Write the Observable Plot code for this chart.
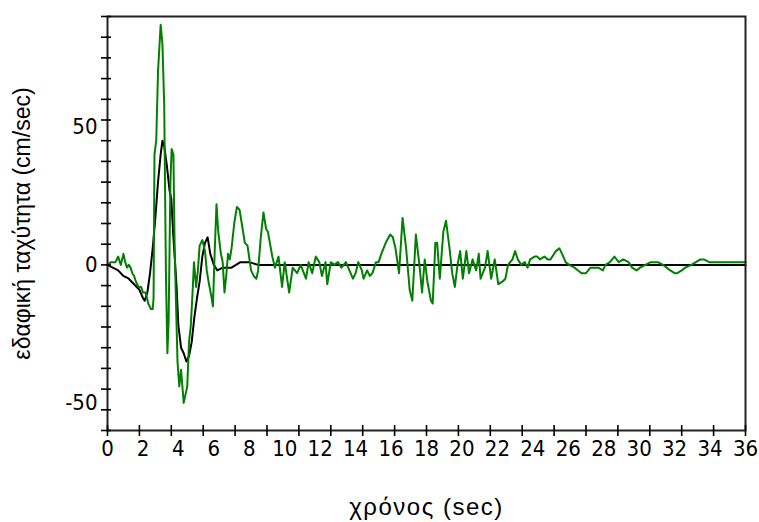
<!DOCTYPE html>
<html>
<head>
<meta charset="utf-8">
<script src="https://cdn.jsdelivr.net/npm/d3@7"></script>
<script src="https://cdn.jsdelivr.net/npm/@observablehq/plot@0.6"></script>
<style>
  html, body { margin: 0; padding: 0; background: #fff; }
  #chart svg { display: block; }
  #chart [aria-label="x-axis tick label"], #chart [aria-label="y-axis tick label"] {
    font-family: "Liberation Sans Narrow", "DejaVu Sans Condensed", "DejaVu Sans", sans-serif;
    font-stretch: condensed;
    font-size: 22px;
  }
  #chart [aria-label="x-axis label"] {
    font-family: "Liberation Sans", sans-serif;
    font-size: 24px;
    letter-spacing: 1.5px;
  }
  #chart [aria-label="y-axis label"] {
    font-family: "Liberation Sans", sans-serif;
    font-size: 23px;
  }
</style>
</head>
<body>
<div id="chart"></div>
<script>
// Green series: measured ground velocity (time in sec, velocity in cm/sec)
const timeGreen = [0, 0.2, 0.45, 0.6, 0.75, 0.9, 1.0, 1.1, 1.2, 1.3, 1.4, 1.5, 1.6, 1.75, 1.9, 2.0, 2.15, 2.3, 2.45, 2.55,
  2.6, 2.65, 2.75, 2.85, 3.0, 3.1, 3.2, 3.3, 3.38, 3.45, 3.55, 3.62, 3.72, 3.78, 3.85, 3.95, 4.05, 4.15, 4.3, 4.4, 4.5, 4.6, 4.7, 4.8, 4.88,
  5.0, 5.1, 5.2, 5.35, 5.5, 5.6, 5.7, 5.85, 5.95, 6.05, 6.15, 6.25, 6.4, 6.5, 6.6, 6.7, 6.8, 6.9, 7.0, 7.15, 7.3, 7.45, 7.6, 7.75, 7.9,
  8.1, 8.25, 8.4, 8.5, 8.65, 8.8, 8.95, 9.05, 9.3, 9.45, 9.65, 9.85, 10.0, 10.25, 10.45, 10.7, 10.9, 11.2, 11.35, 11.55, 11.75, 11.95,
  12.1, 12.3, 12.4, 12.6, 12.8, 13.0, 13.2, 13.45, 13.65, 13.85, 14.0, 14.15, 14.35, 14.45, 14.65, 14.8, 14.95, 15.15, 15.3, 15.45, 15.7, 15.95,
  16.1, 16.25, 16.45, 16.65, 16.85, 17.05, 17.2, 17.4, 17.6, 17.75, 17.9, 18.05, 18.25, 18.35, 18.5, 18.6, 18.75, 18.95, 19.1, 19.3, 19.45, 19.6, 19.75, 19.9,
  20.05, 20.25, 20.4, 20.6, 20.8, 20.95, 21.05, 21.3, 21.45, 21.65, 21.85, 22.05, 22.3, 22.45, 22.6, 22.85, 23.0, 23.15, 23.35, 23.55, 23.7, 23.85,
  24.1, 24.25, 24.4, 24.65, 24.85, 25.0, 25.3, 25.5, 25.65, 25.85, 26.05, 26.35, 26.55, 26.75, 27.0, 27.25, 27.45, 27.7, 27.95,
  28.1, 28.35, 28.6, 28.85, 29.1, 29.4, 29.6, 29.85, 30.05, 30.35, 30.65, 30.85, 31.05, 31.35, 31.55, 31.75, 32.0, 32.15, 32.4, 32.6, 32.95,
  33.2, 33.45, 33.65, 33.95, 34.2, 35.0, 36.0];
const velGreen = [0, 1, 1, 3, 0, 4, 1, -1, 0, -1, -3, -4, -6, -8, -8, -10, -10, -14, -16, -16,
  -12, 40, 45, 70, 87, 80, 58, -5, -32, -20, 30, 42, 40, 10, -10, -35, -44, -38, -50, -47, -44, -28, -22, -10, 1,
  -8, -2, 7, 9, 5, -2, -6, -11, -15, 5, 22, 12, 4, 1, -10, -4, 4, 2, 6, 15, 21, 20, 14, 8, 7,
  -2, -4, -5, -2, 10, 19, 13, 12, 3, -1, 3, -8, 1, -10, -1, -3, 0, -5, 1, -3, 3, 1,
  -4, 1, -7, 1, 0, 1, -1, 1, -2, -5, -3, 1, -2, -5, -2, -4, -3, 1, 1, 4, 8, 11,
  10, 6, -3, 17, 6, -9, -13, 11, 0, -10, 2, -6, -13, -14, 8, 8, -5, 12, 16, 6, -3, -8, 0, 5,
  -5, 5, -3, 2, -2, 4, -5, -1, 5, -5, 2, -7, -6, -5, 0, 2, 5, 2, 0, 1, -1, 2,
  3, 3, 2, 3, 2, 2, 5, 6, 4, 1, 0, -1, -2, -3, -3, -1, -1, -1, -2,
  0, 1, 3, 1, 2, 1, -1, -2, -1, 0, 1, 1, 1, 0, -1, -2, -3, -3, -2, -1, 0,
  1, 2, 2, 1, 1, 1, 1];

// Black series: reference (model) velocity
const timeBlack = [0, 0.3, 0.6, 0.9, 1.2, 1.5, 1.8, 2.0, 2.1, 2.25, 2.4, 2.55, 2.7, 2.85, 3.0, 3.1, 3.2, 3.35, 3.5, 3.6, 3.7, 3.8, 3.9, 4.0,
  4.15, 4.3, 4.45, 4.6, 4.75, 4.9, 5.05, 5.2, 5.35, 5.5, 5.65, 5.8, 6.0, 6.2, 6.5, 7.0, 7.5, 8.0, 8.5, 9.0, 36.0];
const velBlack = [0, -1, -2, -4, -5, -7, -9, -12, -13, -10, -3, 6, 17, 30, 40, 45, 43, 36, 27, 24, 12, 2, -8, -22,
  -30, -32, -35, -33, -28, -19, -12, -6, 3, 8, 10, 4, 0, -2, -1, -1, 1, 1, 0, 0, 0];

// Axis ticks
const xTickLabels = [0, 2, 4, 6, 8, 10, 12, 14, 16, 18, 20, 22, 24, 26, 28, 30, 32, 34, 36];
const xTickMarks = [0, 1.8, 3.6, 5.4, 7.2, 9, 10.8, 12.6, 14.4, 16.2, 18, 19.8, 21.6, 23.4, 25.2, 27, 28.8, 30.6, 32.4, 34.2, 36];
const yTickLabels = [-50, 0, 50];
const yTickMarks = [-60, -52.5, -45, -37.5, -30, -22.5, -15, -7.5, 0, 7.5, 15, 22.5, 30, 37.5, 45, 52.5, 60, 67.5, 75, 82.5, 90];

const xLabel = "χρόνος (sec)";
const yLabel = "εδαφική ταχύτητα (cm/sec)";

const green = timeGreen.map((t, i) => ({t, v: velGreen[i]}));
const black = timeBlack.map((t, i) => ({t, v: velBlack[i]}));

const chart = Plot.plot({
  width: 759,
  height: 522,
  marginLeft: 107,
  marginRight: 14,
  marginTop: 16,
  marginBottom: 92,
  style: {background: "#fff", color: "#000", overflow: "visible"},
  x: {domain: [0, 36]},
  y: {domain: [-60, 90]},
  marks: [
    Plot.line(black, {x: "t", y: "v", stroke: "#000", strokeWidth: 2, curve: "linear"}),
    Plot.line(green, {x: "t", y: "v", stroke: "#008000", strokeWidth: 2, curve: "linear"}),
    Plot.frame({stroke: "#222", strokeWidth: 2}),
    Plot.axisX(xTickMarks, {tickSize: 11, dy: -5, fill: "none", label: null, strokeWidth: 1.6}),
    Plot.axisX(xTickLabels, {tickSize: 0, tickPadding: 10, tickFormat: d => String(d), label: xLabel, labelAnchor: "center", labelOffset: 84, labelArrow: "none"}),
    Plot.axisY(yTickMarks, {tickSize: 10, dx: 4, fill: "none", label: null, strokeWidth: 1.6}),
    Plot.axisY(yTickLabels, {tickSize: 0, tickPadding: 10, tickFormat: d => String(d), label: yLabel, labelAnchor: "center", labelOffset: 94, labelArrow: "none"})
  ]
});
document.getElementById("chart").appendChild(chart);
</script>
</body>
</html>
